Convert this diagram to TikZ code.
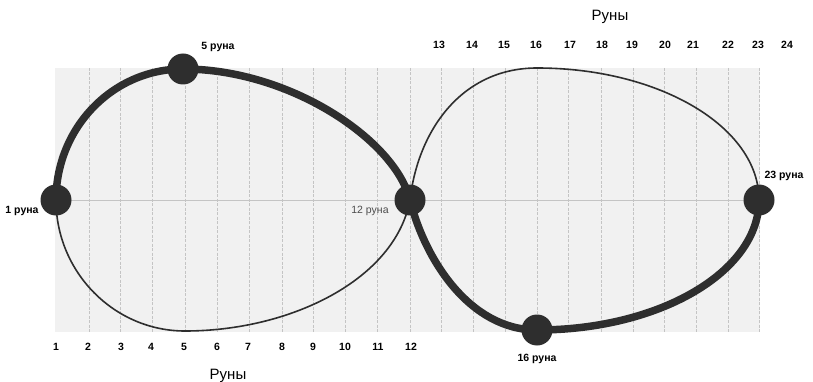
\documentclass[tikz,border=0pt]{standalone}
\usepackage{fontspec}
\setmainfont{Liberation Sans}
\definecolor{ink}{HTML}{2E2E2E}
\definecolor{gridfill}{HTML}{F1F1F1}
\definecolor{gridline}{HTML}{C4C4C4}
\begin{document}
\begin{tikzpicture}[x=1pt,y=-1pt,
  num/.style={font=\fontsize{10.5}{12}\selectfont\bfseries, inner sep=0pt},
  lbl/.style={font=\fontsize{10.5}{12}\selectfont\bfseries, inner sep=0pt},
  title/.style={font=\fontsize{15}{17}\selectfont, inner sep=0pt},
  rune/.style={circle, fill=ink, minimum size=31pt, inner sep=0pt},
  thickpath/.style={draw=ink, line width=7.5pt},
  thinpath/.style={draw=ink, line width=1.6pt},
  gl/.style={draw=gridline, line width=0.6pt, dash pattern=on 3pt off 1.5pt}]
\useasboundingbox (0,0) rectangle (813,382);
% grid background
\fill[gridfill] (55,68) rectangle (760,332);
\foreach \x in {89,120,152,185,217,249,282,313,345,377,410,441,473,505,537,568,601,633,664,696,728,759}
  \draw[gl] (\x,68) -- (\x,332);
\draw[draw=gridline, line width=0.8pt] (56,200) -- (759,200);
% anchor points
\coordinate (p1) at (56,200);
\coordinate (p5) at (183,69);
\coordinate (p12) at (410,200);
\coordinate (p16) at (537,330);
\coordinate (p23) at (759,200);
\coordinate (bot) at (185,331);
\coordinate (top) at (537,68);
% thin loop
\draw[thinpath] (p1) .. controls (56,272) and (114,331) .. (bot)
  .. controls (290,331) and (395,280) .. (p12)
  .. controls (418,130) and (462,68) .. (top)
  .. controls (659.5,68) and (759,127) .. (p23);
% thick loop
\draw[thickpath] (p1) .. controls (56,127.7) and (112.9,69) .. (p5)
  .. controls (290,69) and (395,140) .. (p12)
  .. controls (425,260) and (470,330) .. (p16)
  .. controls (659.6,330) and (759,271.8) .. (p23);
% rune nodes
\node[rune] (n1) at (p1) {};
\node[rune] (n5) at (p5) {};
\node[rune] (n12) at (p12) {};
\node[rune] (n16) at (p16) {};
\node[rune] (n23) at (p23) {};
% labels
\node[lbl] (l5) at (218,47) {5 руна};
\node[lbl] (l1) at (22,211) {1 руна};
\node[lbl, font=\fontsize{10.5}{12}\selectfont, text=ink!85] (l12) at (370,211) {12 руна};
\node[lbl] (l16) at (537,359) {16 руна};
\node[lbl] (l23) at (784,176) {23 руна};
% axis titles
\node[title] (ttop) at (610,17) {Руны};
\node[title] (tbot) at (228,376) {Руны};
% axis numbers
\foreach \n/\x in {13/439,14/472,15/504,16/536,17/570,18/602,19/632,20/665,21/693,22/728,23/758,24/787}
  \node[num] (top\n) at (\x,45) {\n};
\foreach \n/\x in {1/56,2/88,3/121,4/151,5/184,6/217,7/248,8/282,9/313,10/345,11/378,12/411}
  \node[num] (bot\n) at (\x,347) {\n};
\end{tikzpicture}
\end{document}
